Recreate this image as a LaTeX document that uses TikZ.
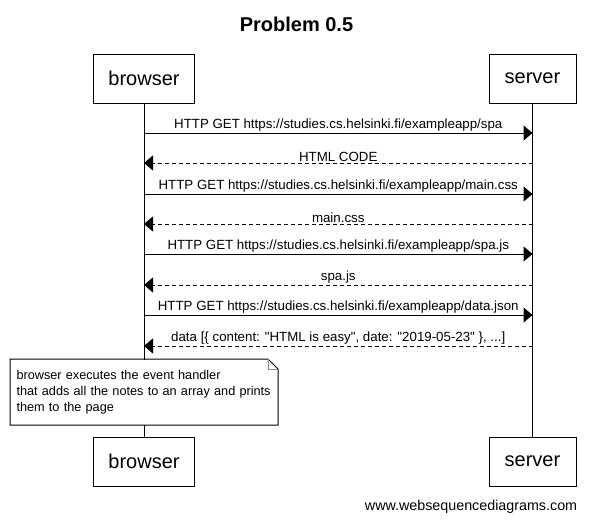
\documentclass[tikz,border=0pt]{standalone}
\usepackage{fontspec}
\setmainfont{Liberation Sans}
\usetikzlibrary{arrows.meta,positioning,calc}

\begin{document}
\begin{tikzpicture}[
  x=1pt, y=-1pt,
  line width=1pt,
  actor/.style={draw, fill=white, minimum height=49pt, inner xsep=15pt,
                font=\fontsize{20}{24}\selectfont},
  lab/.style={above, inner sep=1pt, font=\fontsize{13.3}{15}\selectfont},
  msg/.style={-{Triangle[length=9pt, width=15pt]}},
  reply/.style={msg, dash pattern=on 4pt off 3pt},
  notebox/.style={fill=white, anchor=north west, minimum width=267pt, minimum height=65pt,
                  text width=255pt, inner xsep=6pt, align=left,
                  font=\fontsize{12.7}{16}\selectfont}
]
\useasboundingbox (0,0) rectangle (590,520);

\node[font=\bfseries\fontsize{20}{24}\selectfont, anchor=base] (title) at (296.5,31) {Problem 0.5};

\node[actor, minimum width=100pt] (browser) at (144,78.5) {browser};
\node[actor, minimum width=87pt] (server) at (532.5,78.5) {server};
\node[actor, minimum width=100pt] (browserB) at (144,461.5) {browser};
\node[actor, minimum width=87pt] (serverB) at (532.5,461.5) {server};

% lifelines
\draw (browser) -- (browserB);
\draw (server) -- (serverB);

\foreach \y [count=\i] in {133,163,194,224,254,285,315,346} {
  \coordinate (b\i) at (browser |- 0,\y);
  \coordinate (s\i) at (server |- 0,\y);
}

\draw[msg]   (b1) -- node[lab] {HTTP GET https://studies.cs.helsinki.fi/exampleapp/spa} (s1);
\draw[reply] (s2) -- node[lab] {HTML CODE} (b2);
\draw[msg]   (b3) -- node[lab] {HTTP GET https://studies.cs.helsinki.fi/exampleapp/main.css} (s3);
\draw[reply] (s4) -- node[lab] {main.css} (b4);
\draw[msg]   (b5) -- node[lab] {HTTP GET https://studies.cs.helsinki.fi/exampleapp/spa.js} (s5);
\draw[reply] (s6) -- node[lab] {spa.js} (b6);
\draw[msg]   (b7) -- node[lab] {HTTP GET https://studies.cs.helsinki.fi/exampleapp/data.json} (s7);
\draw[reply] (s8) -- node[lab] {data [\{ content: \textquotedbl HTML is easy\textquotedbl, date: \textquotedbl 2019-05-23\textquotedbl{} \}, ...]} (b8);

% note with folded corner
\node[notebox] (handler) at (10,359)
  {browser executes the event handler\\that adds all the notes to an array and prints\\them to the page};
\draw (handler.north west) -- ([xshift=-10pt]handler.north east)
  -- ([yshift=-10pt]handler.north east) -- (handler.south east)
  -- (handler.south west) -- cycle;
\draw[black!45] ([xshift=-10pt]handler.north east) |- ([yshift=-10pt]handler.north east);

\node[font=\fontsize{14.3}{16}\selectfont, anchor=base east] (site) at (581,510) {www.websequencediagrams.com};
\end{tikzpicture}
\end{document}
